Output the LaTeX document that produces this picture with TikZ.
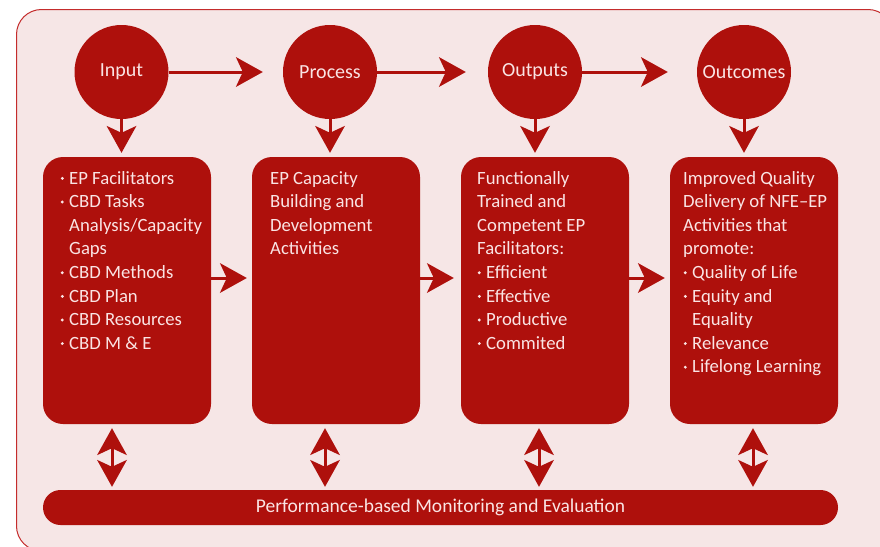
\documentclass[tikz,border=0pt]{standalone}
\usepackage{fontspec}
\setmainfont{Carlito}
\usetikzlibrary{arrows.meta,calc}
\definecolor{deepred}{RGB}{174,16,12}
\definecolor{paper}{RGB}{246,230,230}
\definecolor{rim}{RGB}{196,44,44}
\definecolor{ink}{RGB}{250,228,228}

% small round bullet followed by a fixed gap; \hang indents wrapped lines
\newcommand{\bul}{\makebox[9pt][l]{\hspace{0.5pt}\tikz[baseline=0pt]\fill[ink] (0pt,5.8pt) circle[radius=1.6pt];}}
\newcommand{\hang}{\hspace*{9pt}}

\begin{document}
\begin{tikzpicture}[x=1pt,y=-1pt,
  stage/.style={circle, fill=deepred, minimum size=94pt, inner sep=0pt,
    text=ink, font=\fontsize{20}{22}\selectfont},
  panel/.style={rectangle, rounded corners=20pt, fill=deepred,
    minimum width=168pt, minimum height=267pt, inner sep=0pt},
  body/.style={anchor=north west, inner sep=0pt, align=left, text=ink,
    font=\fontsize{18.7}{23.6}\selectfont},
  band/.style={rectangle, rounded corners=17.5pt, fill=deepred,
    minimum width=795pt, minimum height=35pt, inner sep=0pt, text=ink,
    font=\fontsize{19.5}{21}\selectfont},
  head/.tip={Stealth[length=27pt,width=30pt,inset=7pt,line width=0pt]},
  flow/.style={draw=deepred, line width=3pt, -head},
  both/.style={draw=deepred, line width=3pt, head-head}]

\useasboundingbox (0,0) rectangle (880,546);
\fill[white] (0,0) rectangle (880,546);
\path[fill=paper, draw=rim, line width=1pt, rounded corners=25pt]
  (16.5,9.5) rectangle (893,551);

% stage circles
\node[stage] (c1) at (121.5,72) {\raisebox{2pt}{Input}};
\node[stage] (c2) at (330,72) {\raisebox{-3pt}{Process}};
\node[stage] (c3) at (535,72) {Outputs};
\node[stage] (c4) at (744,72) {\raisebox{-3pt}{Outcomes}};

% content panels
\node[panel] (b1) at (127,290.5) {};
\node[panel] (b2) at (336,290.5) {};
\node[panel] (b3) at (545,290.5) {};
\node[panel] (b4) at (754,290.5) {};

\node[body] (t1) at (60,171) {\bul EP Facilitators\\ \bul CBD Tasks\\ \hang Analysis/Capacity\\ \hang Gaps\\ \bul CBD Methods\\ \bul CBD Plan\\ \bul CBD Resources\\ \bul CBD M \& E};
\node[body] (t2) at (270,171) {EP Capacity\\Building and\\Development\\Activities};
\node[body] (t3) at (477,171) {Functionally\\Trained and\\Competent EP\\Facilitators:\\ \bul Efficient\\ \bul Effective\\ \bul Productive\\ \bul Commited};
\node[body] (t4) at (683,171) {Improved Quality\\Delivery of NFE--EP\\Activities that\\promote:\\ \bul Quality of Life\\ \bul Equity and\\ \hang Equality\\ \bul Relevance\\ \bul Lifelong Learning};

% monitoring band
\node[band] (m) at (440.5,507.5) {Performance-based Monitoring and Evaluation};

% flow between stages
\draw[flow, shorten >=20pt] (c1) -- (c2);
\draw[flow, shorten >=22pt] (c2) -- (c3);
\draw[flow, shorten >=29pt] (c3) -- (c4);

% stage to panel
\foreach \i in {1,...,4}
  \draw[flow, shorten >=4pt] (c\i.south) -- (c\i.south |- b\i.north);

% panel to panel
\draw[flow, shorten >=5pt] ([yshift=12.5pt]b1.east) -- ([yshift=12.5pt]b2.west);
\draw[flow, shorten >=7pt] ([yshift=12.5pt]b2.east) -- ([yshift=12.5pt]b3.west);
\draw[flow, shorten >=5pt] ([yshift=12.5pt]b3.east) -- ([yshift=12.5pt]b4.west);

% panels and monitoring band
\draw[both, shorten <=3pt, shorten >=4pt] ($(b1.south |- m.north)+(-15,0)$) -- ($(b1.south)+(-15,0)$);
\draw[both, shorten <=3pt, shorten >=4pt] ($(b2.south |- m.north)+(-11,0)$) -- ($(b2.south)+(-11,0)$);
\draw[both, shorten <=3pt, shorten >=4pt] ($(b3.south |- m.north)+(-6,0)$) -- ($(b3.south)+(-6,0)$);
\draw[both, shorten <=3pt, shorten >=4pt] ($(b4.south |- m.north)+(-1,0)$) -- ($(b4.south)+(-1,0)$);
\end{tikzpicture}
\end{document}
